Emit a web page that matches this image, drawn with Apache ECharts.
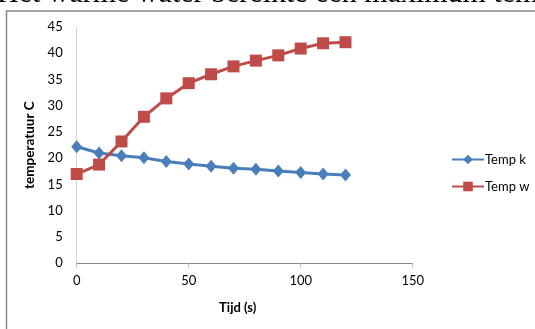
<!DOCTYPE html>
<html><head><meta charset="utf-8">
<script src="https://cdn.jsdelivr.net/npm/echarts@6/dist/echarts.min.js"></script>
<style>html,body{margin:0;padding:0;background:#fff}#c{width:535px;height:329px}</style>
</head><body><div id="c"></div>
<script>
const time = [0,10,20,30,40,50,60,70,80,90,100,110,120];
const tempK = [22.2,21.0,20.5,20.1,19.4,18.9,18.5,18.1,17.9,17.6,17.3,17.0,16.8];
const tempW = [17.0,18.8,23.2,27.9,31.4,34.3,36.0,37.5,38.6,39.6,40.9,41.9,42.1];
const gridValues = [0,5,10,20,40];
const xTicks = [0,50,100,150];
const yTicks = [0,5,10,15,20,25,30,35,40,45];

const chart = echarts.init(document.getElementById('c'), null, {renderer:'canvas'});
const font = 'Lato, "Open Sans", sans-serif';
chart.setOption({
  animation:false,
  backgroundColor:'#fff',
  graphic:[
    {type:'rect', shape:{x:6.5,y:11,width:540,height:330}, style:{fill:'none', stroke:'#8a8a8a', lineWidth:1.5}, z:-1},
    {type:'text', x:-3, y:9, style:{text:'Het warme water bereikte een maximum temperatuur', font:'30px "Liberation Serif", serif', fill:'#000', verticalAlign:'bottom'}}
  ],
  grid:{left:76.7, right:122.3, top:27, bottom:65.7, containLabel:false, outerBoundsMode:'none'},
  legend:{
    orient:'vertical', left:446, top:148, itemWidth:32, itemHeight:12, itemGap:14,
    textStyle:{fontFamily:font, fontSize:13, color:'#000', padding:[0,0,0,-4]},
    data:['Temp k','Temp w']
  },
  xAxis:{
    type:'value', min:0, max:150, interval:50,
    name:'Tijd (s)', nameLocation:'middle', nameGap:38,
    nameTextStyle:{fontFamily:font, fontSize:13, fontWeight:'bold', color:'#000', padding:[0,0,0,-14]},
    axisLine:{show:true, onZero:false, lineStyle:{color:'#868686', width:1}},
    axisTick:{show:true, length:5, lineStyle:{color:'#c8c8c8'}},
    axisLabel:{fontFamily:font, fontSize:13, color:'#000', margin:11},
    splitLine:{show:false}
  },
  yAxis:{
    type:'value', min:0, max:45, interval:5,
    name:'temperatuur C', nameLocation:'middle', nameGap:36, nameRotate:90,
    nameTextStyle:{fontFamily:font, fontSize:13.5, fontWeight:'bold', color:'#000'},
    axisLine:{show:true, lineStyle:{color:'#d4d4d4', width:1}},
    axisTick:{show:false},
    axisLabel:{fontFamily:font, fontSize:13, color:'#000', margin:14},
    splitLine:{show:false}
  },
  series:[
    {
      name:'grid', type:'line', data:[], silent:true, symbol:'none',
      markLine:{
        silent:true, symbol:'none', animation:false, label:{show:false},
        lineStyle:{color:'#868686', type:'solid', width:1},
        data: gridValues.map(v => [{coord:[-2.23, v]},{coord:[150, v]}])
      }
    },
    {
      name:'Temp k', type:'line', data: time.map((t,i)=>[t,tempK[i]]),
      symbol:'diamond', symbolSize:[11,13], itemStyle:{color:'#4a7ebb'},
      lineStyle:{color:'#4a7ebb', width:3}, z:3
    },
    {
      name:'Temp w', type:'line', data: time.map((t,i)=>[t,tempW[i]]),
      symbol:'rect', symbolSize:12, itemStyle:{color:'#be4b48'},
      lineStyle:{color:'#be4b48', width:3}, z:4
    }
  ]
});
</script></body></html>
